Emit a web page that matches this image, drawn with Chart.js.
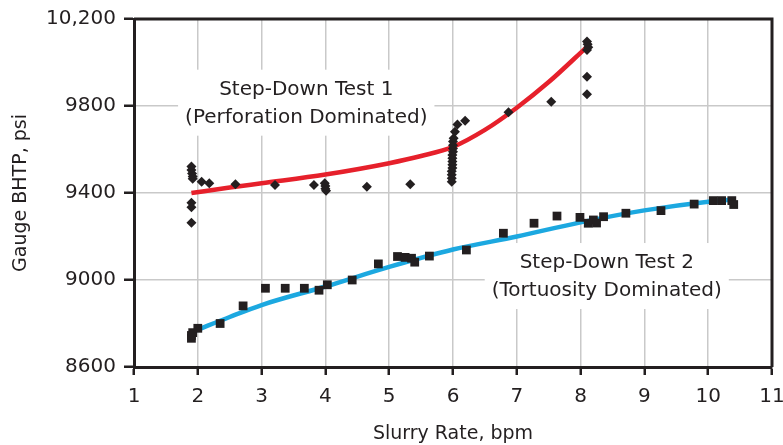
<!DOCTYPE html>
<html>
<head>
<meta charset="utf-8">
<script src="https://cdn.jsdelivr.net/npm/chart.js@4/dist/chart.umd.min.js"></script>
<style>
  html, body { margin: 0; padding: 0; background: #fff; }
  #wrap { width: 783px; height: 445px; }
</style>
</head>
<body>
<div id="wrap"><canvas id="c" width="783" height="445"></canvas></div>
<script>
// Step-Down Test 1 (diamonds) - slurry rate, bpm / gauge BHTP, psi
const test1Rate = [1.9, 1.9, 1.91, 1.92, 1.92, 2.06, 2.18, 2.59, 3.21, 3.82, 3.99, 4.0, 4.0, 4.01,
  4.65, 5.33, 1.9, 1.9, 1.9,
  5.98, 5.98, 5.98, 5.98, 5.99, 5.99, 5.99, 5.99, 5.99, 6.0, 6.0, 6.0, 6.0, 6.01,
  6.03, 6.07, 6.19, 6.87, 7.54, 8.1, 8.11, 8.12, 8.1, 8.1, 8.1];
const test1Bhtp = [9522, 9506, 9490, 9476, 9465, 9452, 9445, 9440, 9437, 9437, 9445, 9432, 9420, 9410,
  9429, 9440, 9355, 9334, 9263,
  9452, 9468, 9484, 9500, 9515, 9530, 9545, 9560, 9575, 9590, 9605, 9620, 9637, 9652,
  9682, 9715, 9732, 9771, 9820, 10096, 10084, 10070, 10057, 9935, 9854];

// Step-Down Test 2 (squares)
const test2Rate = [1.9, 1.9, 1.92, 2.0, 2.35, 2.71, 3.06, 3.37, 3.67, 3.9, 4.03, 4.42, 4.83, 5.13,
  5.25, 5.35, 5.4, 5.63, 6.21, 6.79, 7.27, 7.63, 7.99, 8.12, 8.2, 8.25, 8.36, 8.71, 9.26, 9.78,
  10.08, 10.21, 10.37, 10.4];
const test2Bhtp = [8732, 8745, 8758, 8778, 8800, 8881, 8962, 8962, 8962, 8953, 8978, 9000, 9074, 9108,
  9104, 9100, 9082, 9110, 9138, 9215, 9261, 9294, 9288, 9261, 9276, 9262, 9291, 9307, 9319, 9349,
  9365, 9365, 9365, 9347];

// fitted curves
const fit1Rate = [1.9, 2.5, 3, 4, 5, 5.5, 6, 6.5, 7, 7.5, 8.1];
const fit1Bhtp = [9400, 9425, 9445, 9485, 9537, 9570, 9612, 9690, 9792, 9910, 10072];
const fit2Rate = [1.97, 2.5, 3, 4, 5, 6, 7, 8, 9, 10, 10.4];
const fit2Bhtp = [8768, 8830, 8885, 8970, 9060, 9140, 9200, 9265, 9320, 9360, 9370];

const yTicks = [8600, 9000, 9400, 9800, 10200];
const yTickLabels = ['8600', '9000', '9400', '9800', '10,200'];
const xTicks = [1, 2, 3, 4, 5, 6, 7, 8, 9, 10, 11];

const label1 = { x: 3.7, y: 9875, lines: ['Step-Down Test 1', '(Perforation Dominated)'] };
const label2 = { x: 8.41, y: 9078, lines: ['Step-Down Test 2', '(Tortuosity Dominated)'] };

const INK = '#231f20';
const FONT = '"DejaVu Sans", sans-serif';

const pts = (xs, ys) => xs.map((x, i) => ({ x, y: ys[i] }));

// top/right frame + text labels with white backing
const decor = {
  id: 'decor',
  beforeDatasetsDraw(chart) {
    const { ctx, scales: { x, y } } = chart;
    ctx.save();
    ctx.font = '20px ' + FONT;
    ctx.textAlign = 'center';
    ctx.textBaseline = 'middle';
    [label1, label2].forEach(l => {
      const cx = x.getPixelForValue(l.x);
      const cy = y.getPixelForValue(l.y);
      const w = Math.max(...l.lines.map(t => ctx.measureText(t).width)) + 14;
      ctx.fillStyle = '#fff';
      ctx.fillRect(cx - w / 2, cy - 20, w, 27 * l.lines.length + 12);
      ctx.fillStyle = INK;
      l.lines.forEach((t, i) => ctx.fillText(t, cx, cy + i * 28));
    });
    ctx.restore();
  },
  afterDraw(chart) {
    const { ctx, chartArea: a } = chart;
    ctx.save();
    ctx.strokeStyle = INK;
    ctx.lineWidth = 3;
    ctx.beginPath();
    ctx.moveTo(a.left, a.top);
    ctx.lineTo(a.right, a.top);
    ctx.lineTo(a.right, a.bottom);
    ctx.stroke();
    ctx.restore();
  }
};

new Chart(document.getElementById('c'), {
  type: 'scatter',
  data: {
    datasets: [
      {
        label: 'Test 1 diamonds', data: pts(test1Rate, test1Bhtp),
        pointStyle: 'rectRot', pointRadius: 5, backgroundColor: INK, borderColor: INK, borderWidth: 0
      },
      {
        label: 'Test 2 squares', data: pts(test2Rate, test2Bhtp),
        pointStyle: 'rect', pointRadius: 6.2, backgroundColor: INK, borderColor: INK, borderWidth: 0
      },
      {
        type: 'line', label: 'Fit 1', data: pts(fit1Rate, fit1Bhtp),
        borderColor: '#e6202b', borderWidth: 4.5, pointRadius: 0, cubicInterpolationMode: 'monotone', fill: false
      },
      {
        type: 'line', label: 'Fit 2', data: pts(fit2Rate, fit2Bhtp),
        borderColor: '#1ca8e0', borderWidth: 4.5, pointRadius: 0, cubicInterpolationMode: 'monotone', fill: false
      }
    ]
  },
  options: {
    responsive: false, animation: false,
    layout: { padding: { top: 19, right: 11, left: 0, bottom: 0 } },
    plugins: { legend: { display: false }, tooltip: { enabled: false } },
    scales: {
      x: {
        type: 'linear', min: 1, max: 11,
        afterBuildTicks: s => { s.ticks = xTicks.map(v => ({ value: v })); },
        afterFit: s => { s.height = 78; s.paddingRight = 0; s.paddingLeft = 0; },
        ticks: { color: INK, font: { family: FONT, size: 20 }, padding: 10, maxRotation: 0, autoSkip: false },
        grid: { color: '#c9c9c9', lineWidth: 1.5, tickColor: INK, tickWidth: 2.5, tickLength: 8 },
        border: { color: INK, width: 3 },
        title: { display: true, text: 'Slurry Rate, bpm', color: INK, font: { family: FONT, size: 19 }, padding: { top: 1, bottom: 0 } }
      },
      y: {
        min: 8600, max: 10200,
        afterBuildTicks: s => { s.ticks = yTicks.map(v => ({ value: v })); },
        afterFit: s => { s.width = 134; s.paddingTop = 0; s.paddingBottom = 0; },
        ticks: {
          color: INK, font: { family: FONT, size: 20 }, padding: 8,
          callback: v => yTickLabels[yTicks.indexOf(v)]
        },
        grid: { color: '#c9c9c9', lineWidth: 1.5, tickColor: INK, tickWidth: 2.5, tickLength: 10 },
        border: { color: INK, width: 3 },
        title: { display: true, text: 'Gauge BHTP, psi', color: INK, font: { family: FONT, size: 19 }, padding: { top: 10, bottom: 0 } }
      }
    }
  },
  plugins: [decor]
});
</script>
</body>
</html>
